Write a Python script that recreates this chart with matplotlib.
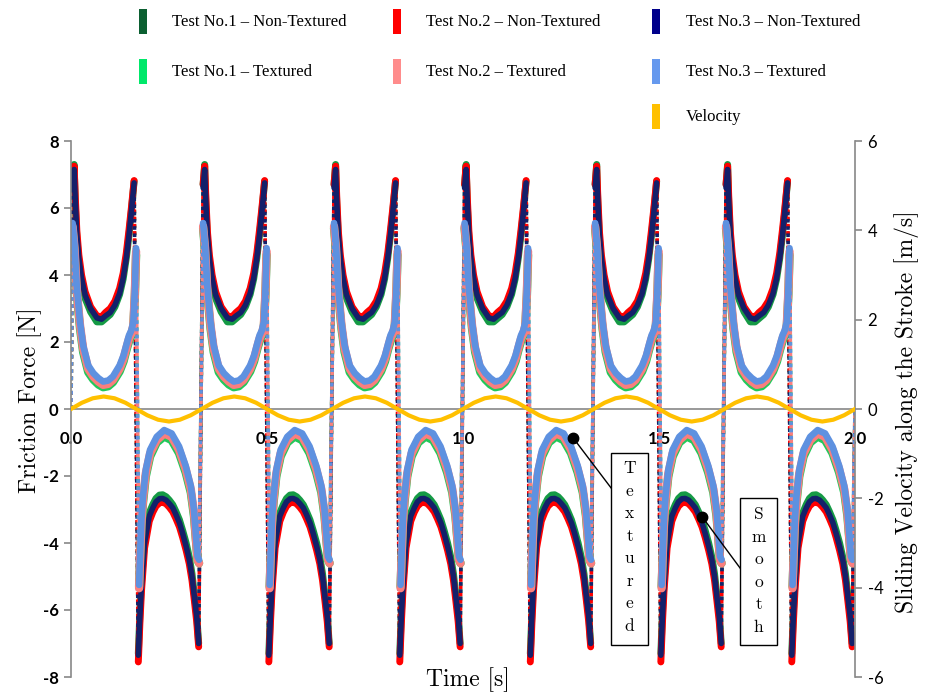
import numpy as np
import matplotlib
matplotlib.use('Agg')
import matplotlib.pyplot as plt
from matplotlib.patches import Rectangle

plt.rcParams['axes.unicode_minus'] = False

# ---- data ----
cycle_starts = [0.0, 0.333, 0.667, 1.0, 1.333, 1.667]   # s, start of each stroke cycle
half_period = 0.1667

# velocity [m/s], sampled every 1/36 s
vel_t = np.linspace(0.0, 2.0, 73)
velocity = [0.00, 0.14, 0.24, 0.28, 0.24, 0.14, 0.00, -0.14, -0.24, -0.28, -0.24, -0.14,
            0.00, 0.14, 0.24, 0.28, 0.24, 0.14, 0.00, -0.14, -0.24, -0.28, -0.24, -0.14,
            0.00, 0.14, 0.24, 0.28, 0.24, 0.14, 0.00, -0.14, -0.24, -0.28, -0.24, -0.14,
            0.00, 0.14, 0.24, 0.28, 0.24, 0.14, 0.00, -0.14, -0.24, -0.28, -0.24, -0.14,
            0.00, 0.14, 0.24, 0.28, 0.24, 0.14, 0.00, -0.14, -0.24, -0.28, -0.24, -0.14,
            0.00, 0.14, 0.24, 0.28, 0.24, 0.14, 0.00, -0.14, -0.24, -0.28, -0.24, -0.14,
            0.00]

# non-textured, forward half stroke (time within half stroke, force)
nt_pos_t = [0.004, 0.008, 0.011, 0.015, 0.020, 0.027, 0.036, 0.050, 0.066, 0.078,
            0.088, 0.100, 0.112, 0.124, 0.133, 0.141, 0.148, 0.154, 0.161]
nt1_pos = [6.7, 7.30, 6.1, 5.1, 4.4, 3.8, 3.3, 2.90, 2.60, 2.60, 2.70, 2.82, 3.05, 3.42, 3.88, 4.50, 5.20, 5.90, 6.80]
nt2_pos = [6.7, 7.25, 6.3, 5.3, 4.6, 4.0, 3.5, 3.05, 2.78, 2.75, 2.88, 3.00, 3.22, 3.60, 4.05, 4.65, 5.35, 6.00, 6.82]
nt3_pos = [6.6, 7.15, 6.2, 5.2, 4.5, 3.9, 3.4, 3.00, 2.72, 2.68, 2.78, 2.88, 3.10, 3.45, 3.90, 4.50, 5.20, 5.90, 6.75]

# non-textured, return half stroke
nt_neg_t = [0.005, 0.009, 0.013, 0.021, 0.033, 0.042, 0.050, 0.059, 0.067, 0.076, 0.084,
            0.093, 0.101, 0.110, 0.118, 0.127, 0.135, 0.142, 0.148, 0.154, 0.159]
nt1_neg = [-7.30, -6.10, -5.20, -3.90, -3.10, -2.85, -2.67, -2.57, -2.56, -2.62, -2.72,
           -2.86, -3.06, -3.31, -3.62, -4.00, -4.42, -4.92, -5.55, -6.15, -7.00]
nt2_neg = [-7.55, -6.40, -5.45, -4.15, -3.35, -3.08, -2.90, -2.80, -2.78, -2.83, -2.93,
           -3.07, -3.27, -3.52, -3.83, -4.22, -4.62, -5.12, -5.72, -6.35, -7.10]
nt3_neg = [-7.35, -6.20, -5.30, -4.00, -3.20, -2.95, -2.77, -2.68, -2.67, -2.72, -2.82,
           -2.95, -3.15, -3.40, -3.71, -4.10, -4.50, -5.00, -5.60, -6.20, -7.00]

# textured, forward half stroke
tx_pos_t = [0.004, 0.009, 0.0145, 0.019, 0.023, 0.031, 0.044, 0.057, 0.070, 0.082,
            0.095, 0.107, 0.124, 0.134, 0.142, 0.148, 0.154, 0.159, 0.163, 0.166]
tx1_pos = [5.40, 4.70, 3.50, 2.90, 2.40, 1.70, 1.10, 0.88, 0.73, 0.65, 0.68, 0.80, 1.12, 1.42, 1.78, 2.02, 2.20, 2.45, 3.40, 4.60]
tx2_pos = [5.45, 4.80, 3.60, 3.00, 2.50, 1.80, 1.20, 0.97, 0.82, 0.72, 0.75, 0.87, 1.20, 1.50, 1.85, 2.10, 2.25, 2.50, 3.50, 4.70]
tx3_pos = [5.55, 4.90, 3.70, 3.10, 2.60, 1.90, 1.30, 1.07, 0.92, 0.82, 0.85, 0.97, 1.30, 1.60, 1.95, 2.20, 2.35, 2.60, 3.60, 4.80]

# textured, return half stroke
tx_neg_t = [0.007, 0.010, 0.013, 0.017, 0.024, 0.035, 0.052, 0.071, 0.090, 0.109,
            0.126, 0.139, 0.147, 0.156, 0.160]
tx1_neg = [-5.30, -4.35, -3.50, -2.80, -2.02, -1.42, -1.00, -0.82, -0.93, -1.32, -1.90, -2.50, -3.20, -4.50, -4.60]
tx2_neg = [-5.35, -4.30, -3.40, -2.70, -1.93, -1.33, -0.93, -0.73, -0.83, -1.22, -1.80, -2.40, -3.10, -4.50, -4.60]
tx3_neg = [-5.25, -4.20, -3.30, -2.60, -1.82, -1.22, -0.83, -0.63, -0.73, -1.12, -1.70, -2.30, -3.00, -4.40, -4.50]

labels = ['Test No.1 \u2013 Non-Textured', 'Test No.2 \u2013 Non-Textured', 'Test No.3 \u2013 Non-Textured',
          'Test No.1 \u2013 Textured', 'Test No.2 \u2013 Textured', 'Test No.3 \u2013 Textured', 'Velocity']
legend_colors = ['#0B5F31', '#FF0000', '#00008B', '#00E86A', '#FF8C8C', '#6699EE', '#FFC000']
line_colors = ['#159A45', '#FF0000', '#14206A', '#22C85A', '#FA7E7E', '#5E91E0']
line_widths = [5.0, 5.0, 4.0, 6.0, 6.0, 4.8]

series = [(nt_pos_t, nt1_pos, nt_neg_t, nt1_neg),
          (nt_pos_t, nt2_pos, nt_neg_t, nt2_neg),
          (nt_pos_t, nt3_pos, nt_neg_t, nt3_neg),
          (tx_pos_t, tx1_pos, tx_neg_t, tx1_neg),
          (tx_pos_t, tx2_pos, tx_neg_t, tx2_neg),
          (tx_pos_t, tx3_pos, tx_neg_t, tx3_neg)]

# ---- figure ----
fig = plt.figure(figsize=(9.3, 6.92), dpi=100)
ax = fig.add_axes([71/930, 15/692, 784/930, 536/692])
ax.set_facecolor('none')

for (pt, pv, nt, nv), col, lw in zip(series, line_colors, line_widths):
    segs = []
    for c in cycle_starts:
        segs.append((c + np.array(pt), np.array(pv)))
        segs.append((c + half_period + np.array(nt), np.array(nv)))
    # jumps between half strokes (sparse samples -> dotted look)
    jx = [0.0]
    jy = [0.0]
    for sx, sy in segs:
        jx += [sx[0], np.nan, sx[-1]]
        jy += [sy[0], np.nan, sy[-1]]
    jx.append(2.0)
    jy.append(0.0)
    ax.plot(jx, jy, color=col, lw=2.6, linestyle=(0, (1, 1)), zorder=2)
    for sx, sy in segs:
        ax.plot(sx, sy, color=col, lw=lw, solid_capstyle='round', zorder=2)

ax.set_xlim(0, 2.0)
ax.set_ylim(-8, 8)
gray = '#888888'
for s in ['top', 'right']:
    ax.spines[s].set_visible(False)
ax.spines['bottom'].set_position(('data', 0))
ax.spines['bottom'].set_color(gray)
ax.spines['left'].set_color(gray)
ax.spines['bottom'].set_linewidth(1.2)
ax.spines['left'].set_linewidth(1.2)
ax.set_xticks([0.0, 0.5, 1.0, 1.5, 2.0])
ax.set_xticklabels(['0.0', '0.5', '1.0', '1.5', '2.0'])
ax.set_yticks(range(-8, 9, 2))
ax.tick_params(axis='x', length=0, pad=16)
ax.tick_params(axis='y', length=5, width=1.2, color=gray, pad=4)
for lab in ax.get_xticklabels() + ax.get_yticklabels():
    lab.set_fontfamily('Lato')
    lab.set_fontweight('bold')
    lab.set_fontsize(12)

ax2 = ax.twinx()
ax2.plot(vel_t, velocity, color='#FFC000', lw=3.0, zorder=3)
ax2.set_ylim(-6, 6)
ax2.set_yticks(range(-6, 7, 2))
for s in ['top', 'bottom', 'left']:
    ax2.spines[s].set_visible(False)
ax2.spines['right'].set_color(gray)
ax2.spines['right'].set_linewidth(1.2)
ax2.tick_params(axis='y', length=5, width=1.2, color=gray, pad=4)
for lab in ax2.get_yticklabels():
    lab.set_fontfamily('Lato')
    lab.set_fontsize(12)

# axis titles
fig.text(30/930, 1 - 400/692, 'Friction Force [N]', rotation=90, ha='center', va='center',
         fontfamily='cmr10', fontsize=17)
fig.text(907/930, 1 - 412/692, 'Sliding Velocity along the Stroke [m/s]', rotation=90,
         ha='center', va='center', fontfamily='cmr10', fontsize=17)
fig.text(468/930, 1 - 680/692, 'Time [s]', ha='center', va='center', fontfamily='cmr10', fontsize=17)

# callouts
ax.plot([1.2806, 1.378], [-0.857, -2.36], color='black', lw=1, zorder=5)
ax.plot([1.2806], [-0.857], 'o', color='black', ms=7.5, zorder=5)
ax.add_patch(Rectangle((1.378, -7.03), 0.094, 5.72, fc='white', ec='black', lw=1, zorder=5))
ax.text(1.425, -4.13, '\n'.join('Textured'), ha='center', va='center', fontfamily='cmr10',
        fontsize=12.5, linespacing=1.58, zorder=6)

ax.plot([1.610, 1.707], [-3.215, -4.75], color='black', lw=1, zorder=5)
ax.plot([1.610], [-3.215], 'o', color='black', ms=7.5, zorder=5)
ax.add_patch(Rectangle((1.707, -7.03), 0.094, 4.38, fc='white', ec='black', lw=1, zorder=5))
ax.text(1.754, -4.83, '\n'.join('Smooth'), ha='center', va='center', fontfamily='cmr10',
        fontsize=12.5, linespacing=1.58, zorder=6)

# legend (three columns, velocity alone on the last row)
col_x = [139, 393, 652]
text_x = [172, 426, 686]
row_y = [9, 59, 104]
slots = [(0, 0), (0, 1), (0, 2), (1, 0), (1, 1), (1, 2), (2, 2)]
for (r, c), lab, colr in zip(slots, labels, legend_colors):
    fig.add_artist(Rectangle((col_x[c]/930, 1 - (row_y[r] + 25)/692), 8/930, 25/692,
                             transform=fig.transFigure, fc=colr, ec='none'))
    fig.text(text_x[c]/930, 1 - (row_y[r] + 13)/692, lab, ha='left', va='center',
             fontfamily='Liberation Serif', fontsize=12)

fig.savefig('out.png', dpi=100)
